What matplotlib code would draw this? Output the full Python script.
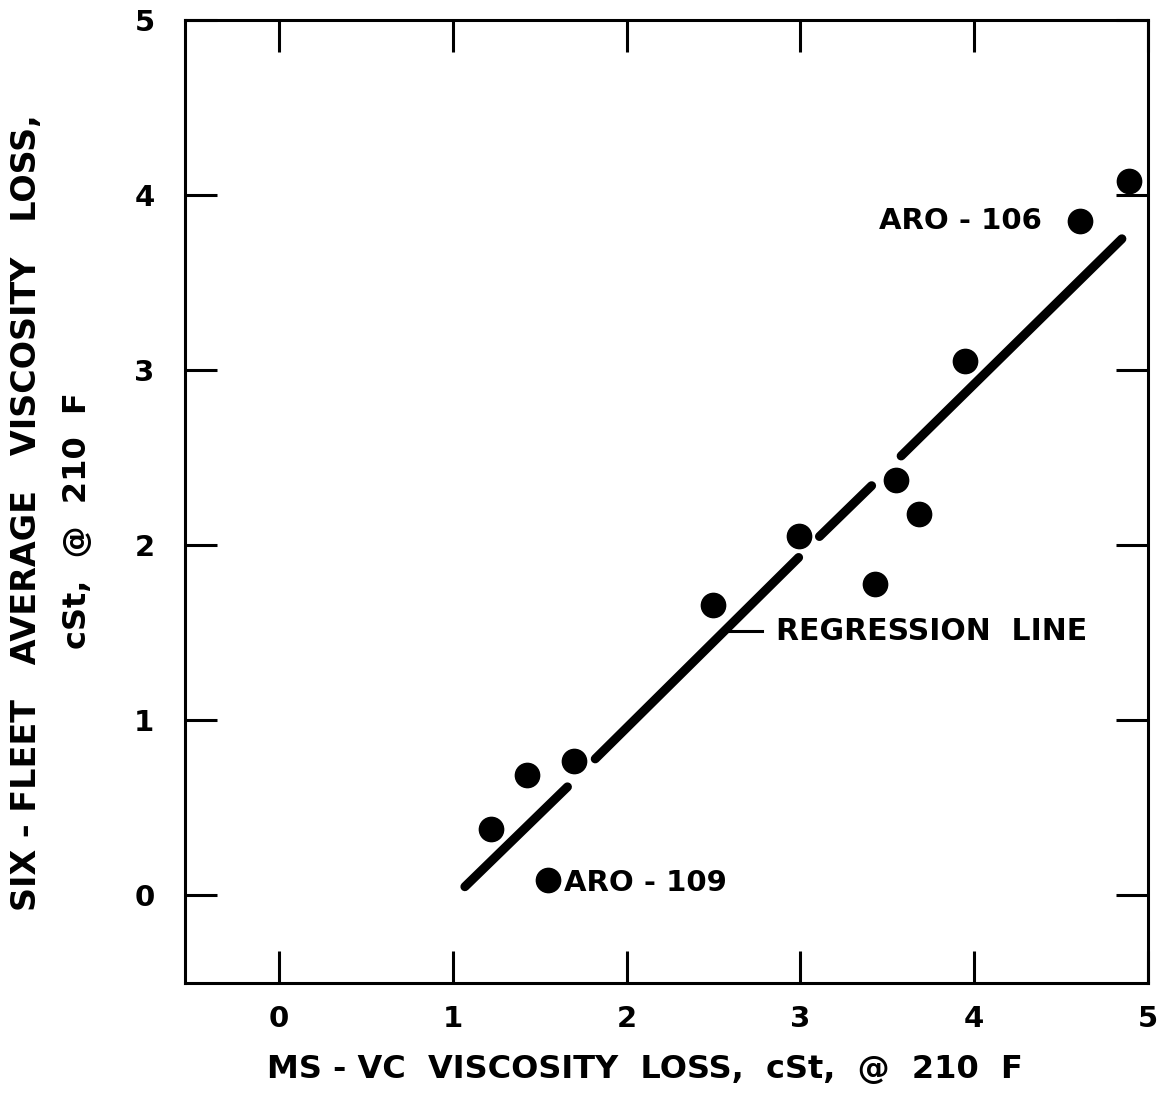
import matplotlib

matplotlib.use("Agg")
import matplotlib.pyplot as plt

# ---------------------------------------------------------------------------
# Data
# ---------------------------------------------------------------------------
msvc_loss = [1.22, 1.43, 1.70, 1.55, 2.50, 2.99, 3.43, 3.55, 3.68, 3.95, 4.61, 4.89]
fleet_loss = [0.38, 0.69, 0.77, 0.09, 1.66, 2.05, 1.78, 2.37, 2.18, 3.05, 3.85, 4.08]

# regression line is drawn broken where it passes the points
reg_x0 = [1.07, 1.82, 3.11, 3.58]
reg_x1 = [1.66, 2.99, 3.41, 4.85]
reg_y0 = [0.05, 0.78, 2.05, 2.51]
reg_y1 = [0.62, 1.93, 2.34, 3.75]

x_ticks = [0, 1, 2, 3, 4, 5]
y_ticks = [0, 1, 2, 3, 4, 5]

FONT = "DejaVu Sans"

fig = plt.figure(figsize=(11.69, 10.96), dpi=100)
ax = fig.add_axes([0.1583, 0.1031, 0.8237, 0.8787])

ax.plot(msvc_loss, fleet_loss, "o", color="black", markersize=17.5, zorder=3)
for xa, xb, ya, yb in zip(reg_x0, reg_x1, reg_y0, reg_y1):
    ax.plot([xa, xb], [ya, yb], color="black", linewidth=6.5,
            solid_capstyle="round")

# annotations
ax.plot([2.59, 2.78], [1.51, 1.51], color="black", linewidth=2.2)
ax.text(2.86, 1.51, "REGRESSION  LINE", fontsize=21.5, fontweight="bold",
        family=FONT, va="center", ha="left")
ax.text(3.92, 3.85, "ARO - 106", fontsize=21, fontweight="bold",
        family=FONT, va="center", ha="center")
ax.text(1.64, 0.07, "ARO - 109", fontsize=21, fontweight="bold",
        family=FONT, va="center", ha="left")

ax.set_xlim(-0.54, 5.0)
ax.set_ylim(-0.5, 5.0)
ax.set_xticks(x_ticks)
ax.set_yticks(y_ticks)
ax.set_xticklabels([str(v) for v in x_ticks], fontsize=21, fontweight="bold", family=FONT)
ax.set_yticklabels([str(v) for v in y_ticks], fontsize=21, fontweight="bold", family=FONT)
ax.tick_params(direction="in", length=23, width=2.2, top=True, right=True,
               pad=16)
ax.tick_params(axis="y", pad=22)
for sp in ax.spines.values():
    sp.set_linewidth(2.2)

fig.text(0.552, 0.024, "MS - VC  VISCOSITY  LOSS,  cSt,  @  210  F", fontsize=23,
         fontweight="bold", family=FONT, ha="center", va="center")
fig.text(0.023, 0.532, "SIX - FLEET   AVERAGE   VISCOSITY   LOSS,", fontsize=24,
         fontweight="bold", family=FONT, ha="center", va="center", rotation=90)
fig.text(0.066, 0.525, "cSt,  @  210  F", fontsize=23,
         fontweight="bold", family=FONT, ha="center", va="center", rotation=90)

fig.savefig("out.png", dpi=100)
